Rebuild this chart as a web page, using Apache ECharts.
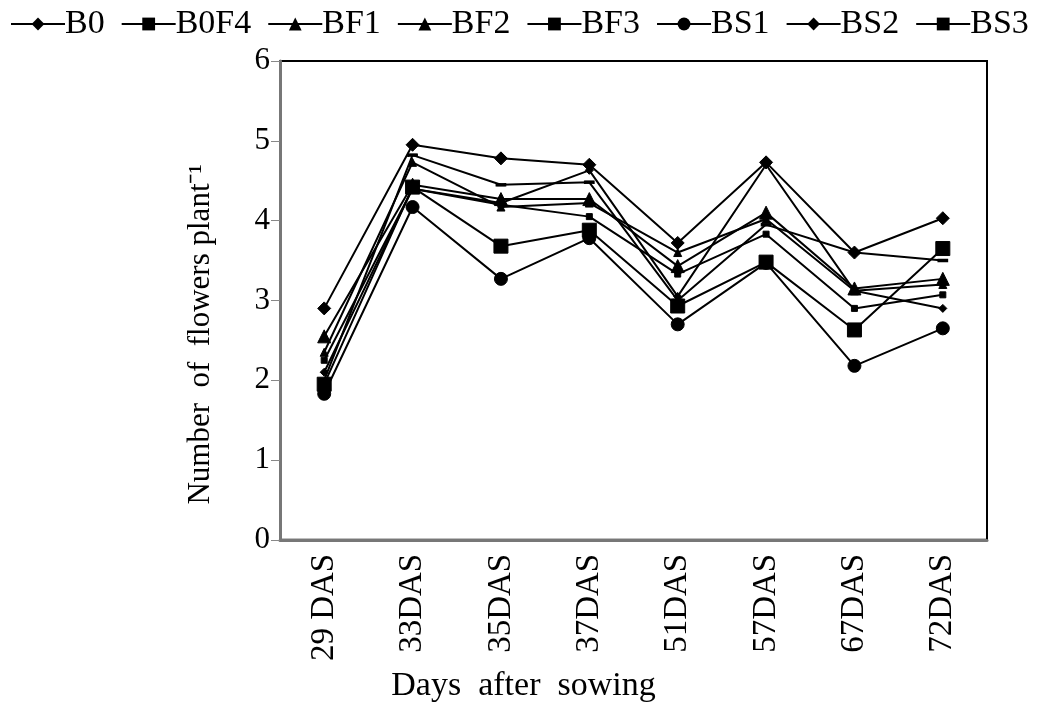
<!DOCTYPE html>
<html><head><meta charset="utf-8">
<script src="https://cdn.jsdelivr.net/npm/echarts@6/dist/echarts.min.js"></script>
<style>html,body{margin:0;padding:0;background:#fff}#c{width:1041px;height:708px}</style>
</head><body><div id="c"></div>
<script>
const categories = ['29 DAS','33DAS','35DAS','37DAS','51DAS','57DAS','67DAS','72DAS'];
const seriesNames = ['B0','B0F4','BF1','BF2','BF3','BS1','BS2','BS3'];
const B0   = [2.90, 4.95, 4.78, 4.70, 3.72, 4.73, 3.60, 4.03];
const B0F4 = [2.25, 4.40, 4.20, 4.05, 3.33, 3.83, 2.90, 3.07];
const BF1  = [2.55, 4.45, 4.27, 4.27, 3.43, 4.10, 3.15, 3.27];
const BF2  = [2.35, 4.73, 4.17, 4.22, 3.60, 4.02, 3.12, 3.20];
const BF3  = [1.95, 4.42, 3.68, 3.88, 2.93, 3.48, 2.63, 3.65];
const BS1  = [1.83, 4.17, 3.27, 3.78, 2.70, 3.47, 2.18, 2.65];
const BS2  = [2.10, 4.40, 4.22, 4.63, 3.05, 4.70, 3.12, 2.90];
const BS3  = [2.00, 4.82, 4.45, 4.48, 3.00, 3.95, 3.60, 3.50];
const values = [B0, B0F4, BF1, BF2, BF3, BS1, BS2, BS3];
const yTicks = [0,1,2,3,4,5,6];

const symbols = ['diamond','rect','triangle','triangle','rect','circle','diamond','rect'];
const sizes = [13, 6, 13, 8, 14, 13, 8, [9,3]];
const font = 'Liberation Serif, Times New Roman, serif';

const chart = echarts.init(document.getElementById('c'));
chart.setOption({
  animation: false,
  legend: {
    top: 2, left: 5, itemGap: 16, itemWidth: 54, itemHeight: 16,
    textStyle: {fontFamily: font, fontSize: 34, color: '#000', padding: [0,0,0,-5]},
    data: seriesNames
  },
  grid: {left: 280, right: 54, top: 61, bottom: 167, show: true, borderColor: '#000', borderWidth: 2, backgroundColor: '#fff'},
  xAxis: {
    type: 'category', data: categories, boundaryGap: true,
    name: 'Days  after  sowing', nameLocation: 'middle', nameGap: 128,
    nameTextStyle: {fontFamily: font, fontSize: 34, color: '#000', padding: [0, 220, 0, 0]},
    axisLine: {lineStyle: {color: '#777', width: 3}},
    axisTick: {show: false},
    axisLabel: {rotate: 90, fontFamily: font, fontSize: 33, color: '#000', margin: 14}
  },
  yAxis: {
    type: 'value', min: 0, max: 6, interval: 1,
    name: 'Number  of  flowers plant\u207B\u00B9', nameLocation: 'middle', nameGap: 64,
    nameTextStyle: {fontFamily: font, fontSize: 31, color: '#000', padding: [0, 68, 0, 0]},
    axisLine: {show: true, lineStyle: {color: '#777', width: 3}},
    axisTick: {show: true, length: 9, lineStyle: {color: '#888', width: 1}},
    splitLine: {show: false},
    axisLabel: {fontFamily: font, fontSize: 31, color: '#000', margin: 10,
      formatter: function(v){ return yTicks.indexOf(v) >= 0 ? String(v) : ''; }}
  },
  series: seriesNames.map(function(n,i){
    return {
      name: n, type: 'line', data: values[i],
      symbol: symbols[i], symbolSize: sizes[i], showAllSymbol: true,
      lineStyle: {color: '#000', width: 2},
      itemStyle: {color: '#000', borderColor: '#000'},
      z: 2 + i
    };
  })
});
</script></body></html>
